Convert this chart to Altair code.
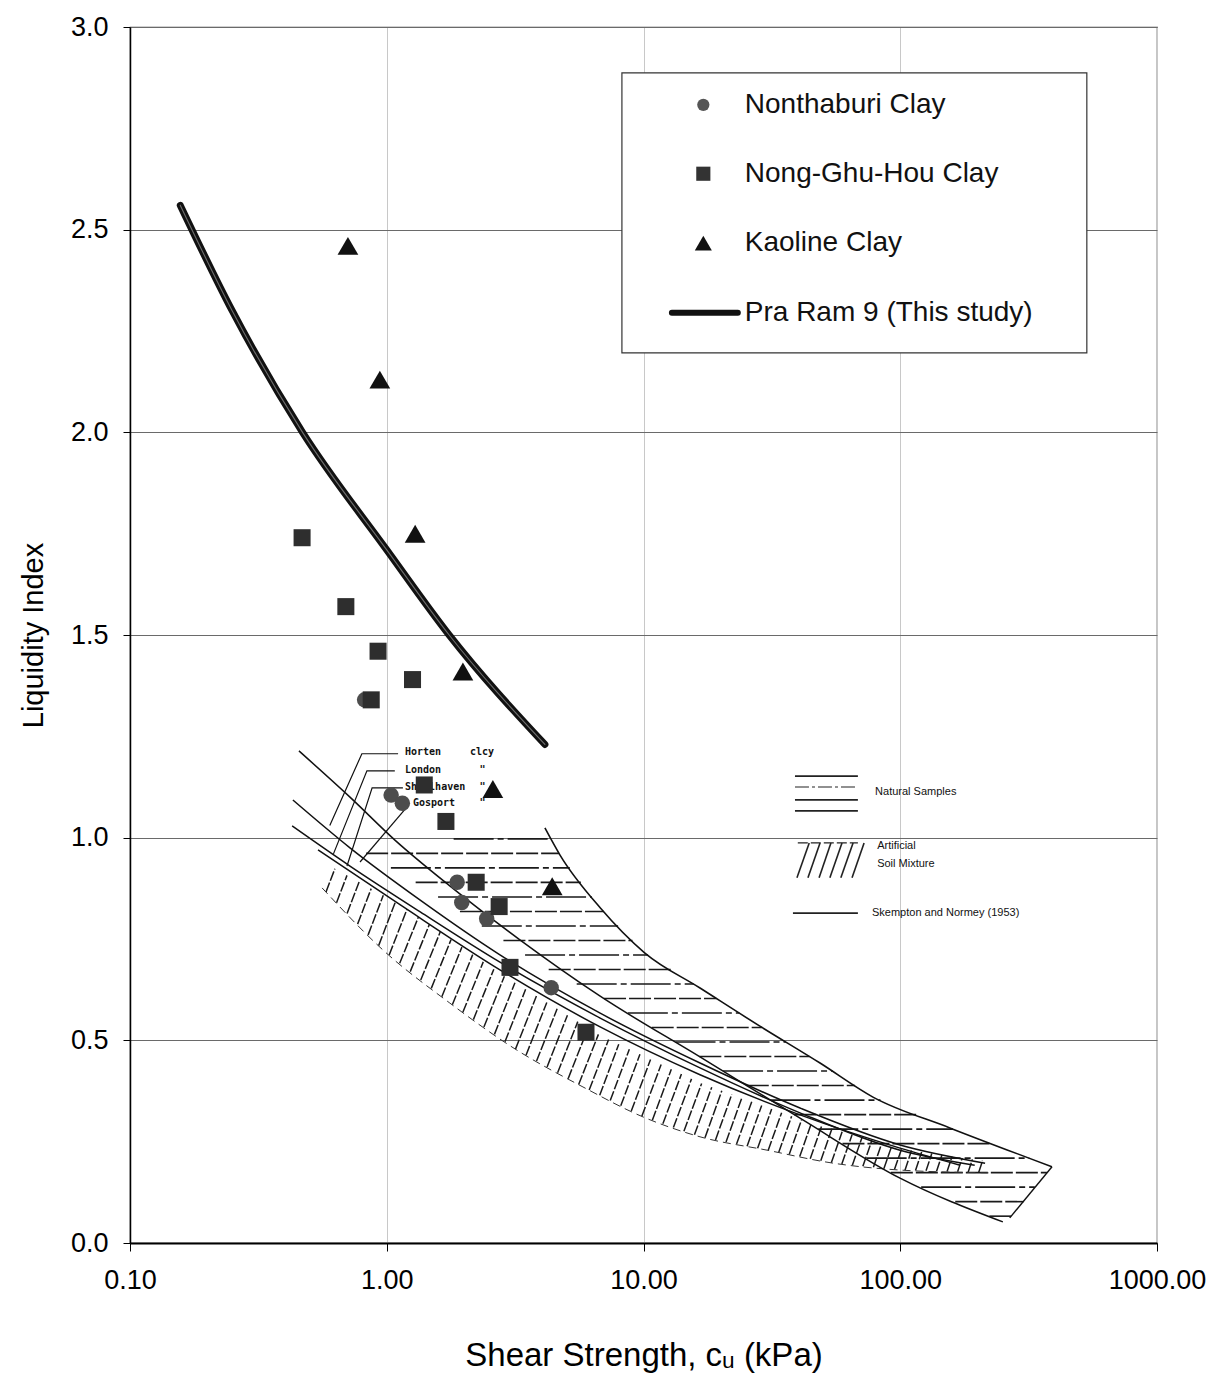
import altair as alt
import pandas as pd
import numpy as np

# ---------------- data ----------------
# Nonthaburi clay (circles)
non_x = [0.82, 1.04, 1.15, 1.88, 1.96, 2.45, 4.37]
non_y = [1.34, 1.105, 1.085, 0.89, 0.84, 0.80, 0.63]
# Nong-Ghu-Hou clay (squares)
ngh_x = [0.468, 0.693, 0.87, 0.925, 1.26, 1.40, 1.70, 2.23, 2.74, 3.02, 5.97]
ngh_y = [1.74, 1.57, 1.34, 1.46, 1.39, 1.13, 1.04, 0.89, 0.83, 0.68, 0.52]
# Kaoline clay (triangles)
kao_x = [0.706, 0.94, 1.29, 1.98, 2.59, 4.41]
kao_y = [2.46, 2.13, 1.75, 1.41, 1.12, 0.88]
# Pra Ram 9 (this study)
pr9_x = [0.157, 0.25, 0.47, 1.0, 1.75, 4.13]
pr9_y = [2.56, 2.30, 2.00, 1.71, 1.50, 1.23]

# Skempton & Northey (1953) curves (Horten, London, Shellhaven, Gosport)
c1_x = [0.455, 0.719, 1.076, 1.76, 3.30, 6.78, 16.6, 40.7, 99.8, 251]
c1_y = [1.214, 1.100, 0.994, 0.881, 0.748, 0.609, 0.459, 0.308, 0.160, 0.052]
c2_x = [0.431, 0.719, 1.35, 2.76, 6.78, 16.6, 40.7, 99.8, 214]
c2_y = [1.093, 0.975, 0.846, 0.711, 0.567, 0.444, 0.333, 0.242, 0.197]
c3_x = [0.428, 0.719, 1.35, 2.76, 6.78, 16.6, 40.7, 99.8, 195]
c3_y = [1.029, 0.930, 0.817, 0.693, 0.555, 0.432, 0.321, 0.229, 0.192]
c4_x = [0.54, 1.13, 2.76, 6.78, 16.6, 40.7, 99.8, 171]
c4_y = [0.970, 0.834, 0.674, 0.533, 0.415, 0.316, 0.234, 0.192]

# Natural samples zone: upper/right edge, closing edge and lower/left edge
nup_x = [4.13, 4.73, 6.78, 10.1, 16.6, 28.4, 48.7, 78.3, 156, 390]
nup_y = [1.024, 0.957, 0.827, 0.716, 0.629, 0.535, 0.444, 0.360, 0.284, 0.188]
nend_x = [390, 344, 306, 267]
nend_y = [0.188, 0.148, 0.106, 0.062]
nlo_x = [2.0, 0.787, 1.35, 2.31, 3.95, 6.78, 16.6, 40.7, 99.8, 251]
nlo_y = [1.000, 0.970, 0.883, 0.785, 0.686, 0.609, 0.459, 0.308, 0.160, 0.052]

# Artificial soil mixture zone: lower and upper edge
alo_x = [0.56, 0.966, 1.76, 3.21, 5.81, 9.96, 16.6, 30.3, 54.7, 99.7, 224]
alo_y = [0.876, 0.723, 0.592, 0.476, 0.385, 0.311, 0.262, 0.229, 0.197, 0.180, 0.173]
aup_x = [0.46, 1.13, 2.76, 6.78, 16.6, 40.7, 99.8, 224]
aup_y = [0.97, 0.835, 0.665, 0.512, 0.395, 0.305, 0.232, 0.200]

# Clay name labels with leaders
lab_names = ["Horten", "London", "Shellhaven", "Gosport"]
lab_x = [1.178, 1.178, 1.178, 1.265]
lab_y = [1.211, 1.167, 1.125, 1.086]
ditto_t = ["clcy", '"', '"', '"']
ditto_x = [2.11, 2.30, 2.30, 2.30]
lead_id = [0, 0, 0, 1, 1, 1, 2, 2, 2, 3, 3]
lead_x = [1.107, 0.80, 0.60, 1.075, 0.837, 0.62, 1.156, 0.877, 0.70, 1.20, 0.787]
lead_y = [1.207, 1.207, 1.03, 1.165, 1.165, 0.96, 1.123, 1.123, 0.93, 1.076, 0.94]

# Inner key (natural / artificial / Skempton)
key_nat_y = [1.152, 1.125, 1.093, 1.066]
key_x0, key_x1 = 38.9, 68.4
key_art_xb = [39.6, 43.7, 48.3, 53.2, 58.7, 64.9]
key_art_xt = [44.2, 48.7, 53.7, 59.3, 65.5, 72.3]
key_art_yb, key_art_yt = 0.901, 0.987
key_sk_y = 0.814
key_text = ["Natural Samples", "Artificial", "Soil Mixture", "Skempton and Normey (1953)"]
key_text_x = [79.8, 81.3, 81.3, 77.6]
key_text_y = [1.113, 0.980, 0.935, 0.814]

# Main legend
leg_box = dict(x=8.24, x2=533, y=2.196, y2=2.887)
leg_labels = ["Nonthaburi Clay", "Nong-Ghu-Hou Clay", "Kaoline Clay", "Pra Ram 9 (This study)"]
leg_y = [2.808, 2.638, 2.467, 2.295]
leg_sym_x = 17.1
leg_txt_x = 24.8
leg_line_x = [12.9, 23.3]

# ---------------- scales / axes ----------------
FONT = "Liberation Sans"
xs = alt.Scale(type="log", domain=[0.1, 1000])
ys = alt.Scale(domain=[0, 3])
xaxis = alt.Axis(values=[0.1, 1, 10, 100, 1000], format=".2f",
                 title="Shear Strength, cᵤ (kPa)", grid=True, gridColor="#c8c8c8",
                 gridWidth=1, tickSize=8, tickColor="black", domainColor="black",
                 domainWidth=2, labelFontSize=27, labelFont=FONT, labelColor="black",
                 labelPadding=16, labelFlush=False, titleFontSize=33, titleFont=FONT,
                 titleFontWeight="normal", titleColor="black", titlePadding=46)
yaxis = alt.Axis(values=[0, 0.5, 1, 1.5, 2, 2.5, 3], format=".1f",
                 title="Liquidity Index", grid=True, gridColor="#6a6a6a", gridWidth=1,
                 tickSize=7, tickColor="black", domainColor="black", domainWidth=1.5,
                 labelFontSize=27, labelFont=FONT, labelColor="black", labelPadding=15,
                 labelFlush=False, titleFontSize=29, titleFont=FONT,
                 titleFontWeight="normal", titleColor="black", titlePadding=22)


def X(f="x"):
    return alt.X(f"{f}:Q", scale=xs, axis=xaxis)


def Y(f="y"):
    return alt.Y(f"{f}:Q", scale=ys, axis=yaxis)


layers = []

# ---- natural samples horizontal hatching ----
order = np.argsort(nlo_y)
lo_yy = np.array(nlo_y)[order]
lo_lx = np.log10(np.array(nlo_x))[order]
r_x = nup_x + nend_x[1:]
r_y = nup_y + nend_y[1:]
order = np.argsort(r_y)
up_yy = np.array(r_y)[order]
up_lx = np.log10(np.array(r_x))[order]
nat_rows = []
for i in range(27):
    yv = 0.997 - i * 0.0358
    xl = 10 ** np.interp(yv, lo_yy, lo_lx)
    xr = 10 ** np.interp(yv, up_yy, up_lx)
    if xr > xl:
        nat_rows.append({"x": xl, "x2": xr, "y": yv, "k": i % 2})
nat = pd.DataFrame(nat_rows)
layers.append(alt.Chart(nat[nat.k == 0]).mark_rule(color="#1a1a1a", strokeWidth=1.6,
              strokeDash=[40, 4, 6, 4]).encode(x=X(), x2="x2:Q", y=Y()))
layers.append(alt.Chart(nat[nat.k == 1]).mark_rule(color="#1a1a1a", strokeWidth=1.6,
              strokeDash=[22, 3]).encode(x=X(), x2="x2:Q", y=Y()))

# ---- artificial soil mixture diagonal hatching ----
a_lo_lx = np.log10(alo_x)
a_up_lx = np.log10(aup_x)
art_rows = []
for lb in np.arange(np.log10(0.58), np.log10(215), 0.041):
    yb = np.interp(lb, a_lo_lx, alo_y)
    t = np.interp(lb, a_up_lx, aup_y) - yb
    if t <= 0.01:
        continue
    lt = min(lb + 0.5 * t, a_up_lx[-1])
    yt = np.interp(lt, a_up_lx, aup_y)
    art_rows.append({"x": 10 ** lb, "y": yb, "x2": 10 ** lt, "y2": yt})
art = pd.DataFrame(art_rows)
layers.append(alt.Chart(art).mark_rule(color="#1a1a1a", strokeWidth=1.5,
              strokeDash=[10, 2]).encode(x=X(), y=Y(), x2="x2:Q", y2="y2:Q"))
# dashed lower edge of artificial zone
alo_df = pd.DataFrame({"x": alo_x, "y": alo_y})
layers.append(alt.Chart(alo_df).mark_line(color="#333", strokeWidth=1,
              strokeDash=[8, 5], interpolate="monotone").encode(x=X(), y=Y()))

# ---- natural zone boundary ----
nb = pd.DataFrame({"x": nup_x, "y": nup_y})
layers.append(alt.Chart(nb).mark_line(color="#111", strokeWidth=1.6,
              interpolate="monotone").encode(x=X(), y=Y()))
ne = pd.DataFrame({"x": [nend_x[0]], "x2": [nend_x[-1]], "y": [nend_y[0]], "y2": [nend_y[-1]]})
layers.append(alt.Chart(ne).mark_rule(color="#111", strokeWidth=1.4).encode(
    x=X(), y=Y(), x2="x2:Q", y2="y2:Q"))

# ---- Skempton & Northey curves ----
rows = []
for cid, (cx, cy) in enumerate([(c1_x, c1_y), (c2_x, c2_y), (c3_x, c3_y), (c4_x, c4_y)]):
    for j, (a, b) in enumerate(zip(cx, cy)):
        rows.append({"x": a, "y": b, "c": cid, "o": j})
sk = pd.DataFrame(rows)
layers.append(alt.Chart(sk).mark_line(color="#111", strokeWidth=1.5,
              interpolate="monotone").encode(x=X(), y=Y(), detail="c:N", order="o:Q"))

# ---- leaders and clay labels ----
ld = pd.DataFrame({"x": lead_x, "y": lead_y, "c": lead_id, "o": list(range(len(lead_x)))})
layers.append(alt.Chart(ld).mark_line(color="#111", strokeWidth=1.2).encode(
    x=X(), y=Y(), detail="c:N", order="o:Q"))
lb_df = pd.DataFrame({"x": lab_x, "y": lab_y, "t": lab_names})
layers.append(alt.Chart(lb_df).mark_text(align="left", baseline="middle", font="DejaVu Sans Mono",
              fontSize=10, fontWeight="bold", color="#111").encode(x=X(), y=Y(), text="t:N"))
dt_df = pd.DataFrame({"x": ditto_x, "y": lab_y, "t": ditto_t})
layers.append(alt.Chart(dt_df).mark_text(align="left", baseline="middle", font="DejaVu Sans Mono",
              fontSize=10, fontWeight="bold", color="#111").encode(x=X(), y=Y(), text="t:N"))

# ---- inner key ----
kn = pd.DataFrame({"x": [key_x0] * 4, "x2": [key_x1] * 4, "y": key_nat_y})
layers.append(alt.Chart(kn.iloc[[0, 2, 3]]).mark_rule(color="#222", strokeWidth=1.7).encode(
    x=X(), x2="x2:Q", y=Y()))
layers.append(alt.Chart(kn.iloc[[1]]).mark_rule(color="#222", strokeWidth=1.2,
              strokeDash=[14, 3, 3, 3]).encode(x=X(), x2="x2:Q", y=Y()))
ka = pd.DataFrame({"x": key_art_xb, "x2": key_art_xt, "y": [key_art_yb] * 6,
                   "y2": [key_art_yt] * 6})
layers.append(alt.Chart(ka).mark_rule(color="#222", strokeWidth=1.6).encode(
    x=X(), y=Y(), x2="x2:Q", y2="y2:Q"))
kah = pd.DataFrame({"x": [key_x0 + 1.0], "x2": [key_x1], "y": [key_art_yt]})
layers.append(alt.Chart(kah).mark_rule(color="#222", strokeWidth=1.3,
              strokeDash=[10, 3]).encode(x=X(), x2="x2:Q", y=Y()))
ks = pd.DataFrame({"x": [key_x0 - 0.7], "x2": [key_x1], "y": [key_sk_y]})
layers.append(alt.Chart(ks).mark_rule(color="#222", strokeWidth=1.7).encode(
    x=X(), x2="x2:Q", y=Y()))
kt = pd.DataFrame({"x": key_text_x, "y": key_text_y, "t": key_text})
layers.append(alt.Chart(kt).mark_text(align="left", baseline="middle", font=FONT,
              fontSize=11, color="#111").encode(x=X(), y=Y(), text="t:N"))

# ---- legend box (drawn under the data) ----
lbx = pd.DataFrame([leg_box])
layers.append(alt.Chart(lbx).mark_rect(fill="white", stroke="#333", strokeWidth=1.2).encode(
    x=X(), x2="x2:Q", y=Y(), y2="y2:Q"))

# ---- data points ----
layers.append(alt.Chart(pd.DataFrame({"x": non_x, "y": non_y})).mark_point(
    shape="circle", filled=True, size=240, color="#4d4d4d", opacity=1).encode(x=X(), y=Y()))
layers.append(alt.Chart(pd.DataFrame({"x": ngh_x, "y": ngh_y})).mark_point(
    shape="square", filled=True, size=290, color="#2e2e2e", opacity=1).encode(x=X(), y=Y()))
layers.append(alt.Chart(pd.DataFrame({"x": kao_x, "y": kao_y})).mark_point(
    shape="triangle-up", filled=True, size=430, color="#111", opacity=1).encode(x=X(), y=Y()))

# ---- Pra Ram 9 line ----
pr = pd.DataFrame({"x": pr9_x, "y": pr9_y})
layers.append(alt.Chart(pr).mark_line(color="#111", strokeWidth=7, strokeCap="round",
              interpolate="monotone").encode(x=X(), y=Y()))
layers.append(alt.Chart(pr).mark_line(color="#6e6e6e", strokeWidth=1.1, strokeCap="round",
              interpolate="monotone").encode(x=X(), y=Y()))

# ---- legend contents ----
layers.append(alt.Chart(pd.DataFrame({"x": [leg_sym_x], "y": [leg_y[0]]})).mark_point(
    shape="circle", filled=True, size=150, color="#555", opacity=1).encode(x=X(), y=Y()))
layers.append(alt.Chart(pd.DataFrame({"x": [leg_sym_x], "y": [leg_y[1]]})).mark_point(
    shape="square", filled=True, size=200, color="#333", opacity=1).encode(x=X(), y=Y()))
layers.append(alt.Chart(pd.DataFrame({"x": [leg_sym_x], "y": [leg_y[2]]})).mark_point(
    shape="triangle-up", filled=True, size=290, color="#111", opacity=1).encode(x=X(), y=Y()))
layers.append(alt.Chart(pd.DataFrame({"x": [leg_line_x[0]], "x2": [leg_line_x[1]],
                                      "y": [leg_y[3]]})).mark_rule(
    color="#111", strokeWidth=6, strokeCap="round").encode(x=X(), x2="x2:Q", y=Y()))
lt_df = pd.DataFrame({"x": [leg_txt_x] * 4, "y": leg_y, "t": leg_labels})
layers.append(alt.Chart(lt_df).mark_text(align="left", baseline="middle", font=FONT,
              fontSize=28, color="#111").encode(x=X(), y=Y(), text="t:N"))

chart = alt.layer(*layers).properties(
    width=1027, height=1216,
    autosize=alt.AutoSizeParams(type="none"),
    padding={"left": 130, "top": 27, "right": 69, "bottom": 141},
    background="white",
).configure_view(stroke="#444", strokeWidth=1.2)

chart.save("out.html", embed_options={"renderer": "svg", "actions": False})
